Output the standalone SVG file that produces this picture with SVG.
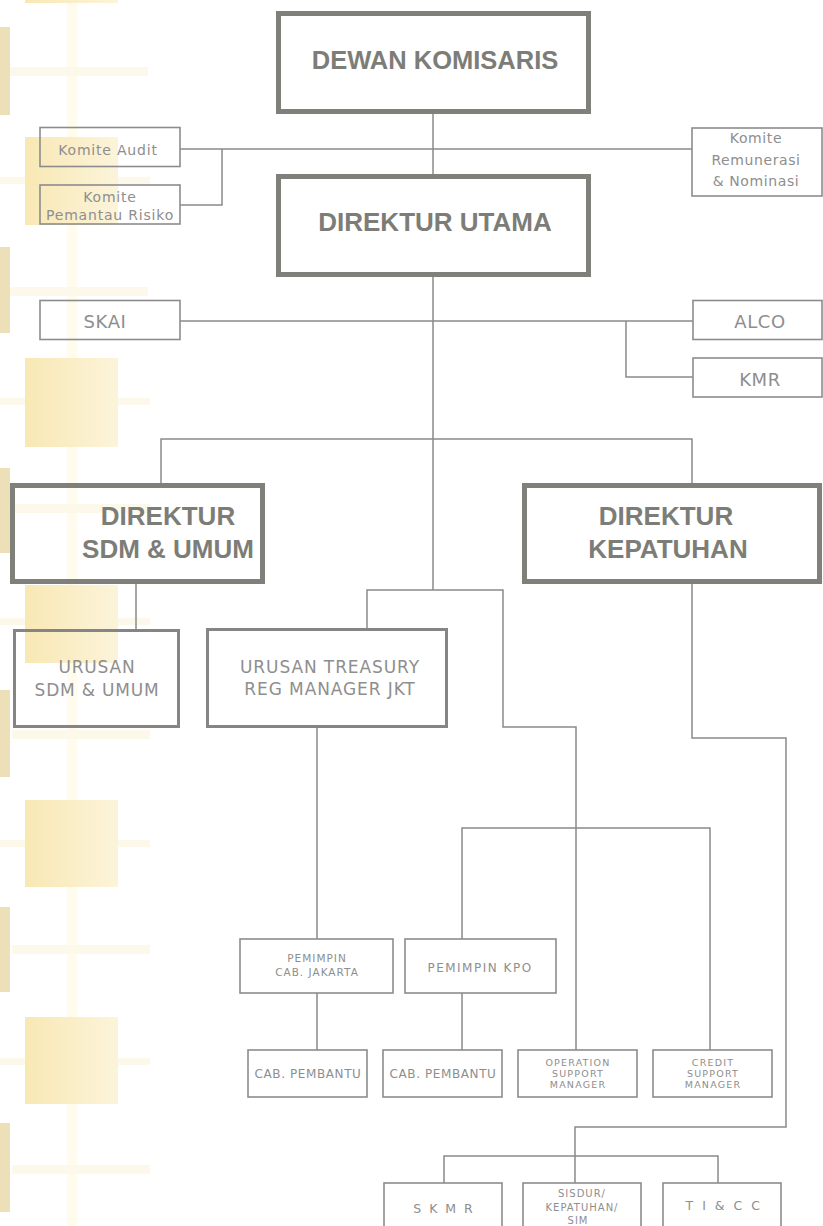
<svg xmlns="http://www.w3.org/2000/svg" width="823" height="1226" viewBox="0 0 823 1226">
<defs>
<linearGradient id="sqg" x1="0" y1="0" x2="1" y2="0">
<stop offset="0" stop-color="#f8e8b4"/>
<stop offset="1" stop-color="#fcf4da"/>
</linearGradient>
<style>
.sq{fill:url(#sqg)}
.tan{fill:#eddfb8}
.hs{fill:#fdf9ea}
.vs{fill:#fffcee}
.thick{fill:none;stroke:#80807b;stroke-width:5}
.mid{fill:none;stroke:#858585;stroke-width:3}
.thin{fill:none;stroke:#8c8c8c;stroke-width:1.6}
.h{font-family:"Liberation Sans",Arial,sans-serif;font-weight:bold;fill:#7d7d78;text-anchor:middle}
.t{font-family:"DejaVu Sans","Liberation Sans",sans-serif;fill:#8e8e8e;text-anchor:middle}
#connectors line,#connectors polyline{stroke:#8a8a8a;stroke-width:1.5;fill:none}
</style>
</defs>
<rect x="0" y="0" width="823" height="1226" fill="#ffffff"/>
<g id="background">
<rect class="vs" x="67" y="0" width="10" height="1226"/>
<rect class="hs" x="10" y="67" width="138" height="9"/>
<rect class="hs" x="0" y="177" width="150" height="7"/>
<rect class="hs" x="10" y="287" width="138" height="9"/>
<rect class="hs" x="0" y="398" width="150" height="7"/>
<rect class="hs" x="12" y="504" width="138" height="9"/>
<rect class="hs" x="0" y="618" width="150" height="7"/>
<rect class="hs" x="12" y="730" width="138" height="9"/>
<rect class="hs" x="0" y="840" width="150" height="7"/>
<rect class="hs" x="12" y="945" width="138" height="9"/>
<rect class="hs" x="0" y="1058" width="150" height="7"/>
<rect class="hs" x="12" y="1165" width="138" height="9"/>
<rect class="sq" x="25" y="-85" width="93" height="88"/>
<rect class="sq" x="25" y="137" width="93" height="88"/>
<rect class="sq" x="25" y="358" width="93" height="89"/>
<rect class="sq" x="25" y="585" width="93" height="78"/>
<rect class="sq" x="25" y="800" width="93" height="87"/>
<rect class="sq" x="25" y="1017" width="93" height="87"/>
<rect class="tan" x="0" y="27" width="10" height="88"/>
<rect class="tan" x="0" y="247" width="10" height="86"/>
<rect class="tan" x="0" y="468" width="10" height="85"/>
<rect class="tan" x="0" y="690" width="10" height="87"/>
<rect class="tan" x="0" y="907" width="10" height="85"/>
<rect class="tan" x="0" y="1123" width="10" height="89"/>
</g>
<g id="connectors">
<line x1="433" y1="114" x2="433" y2="174"/>
<line x1="180" y1="149" x2="692" y2="149"/>
<polyline points="222,149 222,205 180,205"/>
<line x1="433" y1="277" x2="433" y2="590"/>
<line x1="180" y1="321" x2="693" y2="321"/>
<polyline points="626,321 626,377 693,377"/>
<polyline points="161,483 161,439 692,439 692,483"/>
<line x1="136" y1="584" x2="136" y2="629"/>
<polyline points="367,628 367,590 503,590 503,727 576,727 576,1050"/>
<line x1="317" y1="728" x2="317" y2="939"/>
<polyline points="462,939 462,828 710,828 710,1050"/>
<line x1="317" y1="993" x2="317" y2="1050"/>
<line x1="462" y1="993" x2="462" y2="1050"/>
<polyline points="692,584 692,738 786,738 786,1127 575,1127 575,1183"/>
<polyline points="444,1183 444,1156 718,1156 718,1183"/>
</g>
<g id="dewan-komisaris"><rect class="thick" x="278.5" y="13.5" width="310" height="98"/><text class="h" x="435" y="69" font-size="25.5">DEWAN KOMISARIS</text></g>
<g id="direktur-utama"><rect class="thick" x="278.5" y="176.5" width="310" height="98"/><text class="h" x="435" y="231" font-size="26">DIREKTUR UTAMA</text></g>
<g id="komite-audit"><rect class="thin" x="40" y="127.5" width="140" height="39"/><text class="t" x="108" y="155" font-size="14" letter-spacing="0.8">Komite Audit</text></g>
<g id="komite-pemantau"><rect class="thin" x="40" y="185" width="140" height="39"/><text class="t" x="110" y="202" font-size="14" letter-spacing="0.8">Komite</text><text class="t" x="110" y="220" font-size="14" letter-spacing="0.8">Pemantau Risiko</text></g>
<g id="komite-remunerasi"><rect class="thin" x="692" y="128" width="130" height="68"/><text class="t" x="756" y="143" font-size="14" letter-spacing="0.6">Komite</text><text class="t" x="756" y="165" font-size="14" letter-spacing="0.6">Remunerasi</text><text class="t" x="756" y="186" font-size="14" letter-spacing="0.6">&amp; Nominasi</text></g>
<g id="skai"><rect class="thin" x="40" y="300.5" width="140" height="39"/><text class="t" x="105" y="328" font-size="18" letter-spacing="0.6">SKAI</text></g>
<g id="alco"><rect class="thin" x="693" y="300.5" width="129" height="39"/><text class="t" x="760" y="328" font-size="18" letter-spacing="0.6">ALCO</text></g>
<g id="kmr"><rect class="thin" x="693" y="358" width="129" height="39"/><text class="t" x="760" y="386" font-size="18" letter-spacing="0.6">KMR</text></g>
<g id="direktur-sdm"><rect class="thick" x="12.5" y="485.5" width="250" height="96"/><text class="h" x="168" y="525" font-size="26">DIREKTUR</text><text class="h" x="168" y="558" font-size="26">SDM &amp; UMUM</text></g>
<g id="direktur-kepatuhan"><rect class="thick" x="524.5" y="485.5" width="295" height="96"/><text class="h" x="666" y="525" font-size="26">DIREKTUR</text><text class="h" x="668" y="558" font-size="26">KEPATUHAN</text></g>
<g id="urusan-sdm"><rect class="mid" x="14.5" y="630.5" width="164" height="96"/><text class="t" x="97" y="673" font-size="17" letter-spacing="0.8">URUSAN</text><text class="t" x="97" y="696" font-size="17" letter-spacing="0.8">SDM &amp; UMUM</text></g>
<g id="urusan-treasury"><rect class="mid" x="207.5" y="629.5" width="239" height="97"/><text class="t" x="330" y="673" font-size="17" letter-spacing="0.9">URUSAN TREASURY</text><text class="t" x="330" y="695" font-size="17" letter-spacing="0.9">REG MANAGER JKT</text></g>
<g id="pemimpin-cab-jakarta"><rect class="thin" x="240" y="939" width="153" height="54"/><text class="t" x="317" y="962" font-size="10.5" letter-spacing="1">PEMIMPIN</text><text class="t" x="317" y="976" font-size="10.5" letter-spacing="1">CAB. JAKARTA</text></g>
<g id="pemimpin-kpo"><rect class="thin" x="405" y="939" width="151" height="54"/><text class="t" x="480" y="972" font-size="12" letter-spacing="1.5">PEMIMPIN KPO</text></g>
<g id="cab-pembantu-1"><rect class="thin" x="248" y="1050" width="119" height="47"/><text class="t" x="308" y="1078" font-size="12" letter-spacing="0.6">CAB. PEMBANTU</text></g>
<g id="cab-pembantu-2"><rect class="thin" x="383" y="1050" width="119" height="47"/><text class="t" x="443" y="1078" font-size="12" letter-spacing="0.6">CAB. PEMBANTU</text></g>
<g id="operation-support"><rect class="thin" x="518" y="1050" width="119" height="47"/><text class="t" x="578" y="1066" font-size="9.5" letter-spacing="1.2">OPERATION</text><text class="t" x="578" y="1077" font-size="9.5" letter-spacing="1.2">SUPPORT</text><text class="t" x="578" y="1088" font-size="9.5" letter-spacing="1.2">MANAGER</text></g>
<g id="credit-support"><rect class="thin" x="653" y="1050" width="119" height="47"/><text class="t" x="713" y="1066" font-size="9.5" letter-spacing="1.2">CREDIT</text><text class="t" x="713" y="1077" font-size="9.5" letter-spacing="1.2">SUPPORT</text><text class="t" x="713" y="1088" font-size="9.5" letter-spacing="1.2">MANAGER</text></g>
<g id="skmr"><rect class="thin" x="384" y="1183" width="118" height="55"/><text class="t" x="444" y="1213" font-size="12.5" letter-spacing="2">S K M R</text></g>
<g id="sisdur"><rect class="thin" x="523" y="1183" width="118" height="55"/><text class="t" x="582" y="1197" font-size="10" letter-spacing="1">SISDUR/</text><text class="t" x="582" y="1211" font-size="10" letter-spacing="1">KEPATUHAN/</text><text class="t" x="578" y="1224" font-size="10" letter-spacing="1">SIM</text></g>
<g id="ti-cc"><rect class="thin" x="663" y="1183" width="118" height="55"/><text class="t" x="724" y="1210" font-size="12.5" letter-spacing="2.5">T I &amp; C C</text></g>
</svg>
